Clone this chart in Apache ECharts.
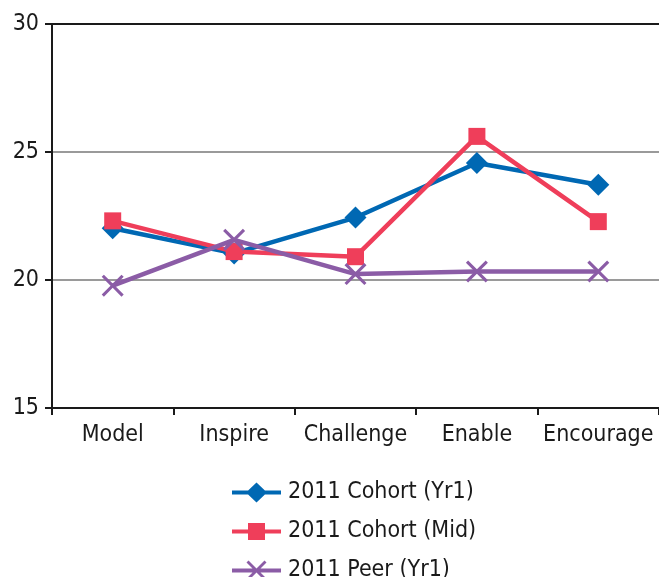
<!DOCTYPE html>
<html>
<head>
<meta charset="utf-8">
<script src="https://cdn.jsdelivr.net/npm/echarts@6/dist/echarts.min.js"></script>
<style>
  html, body { margin: 0; padding: 0; background: #fff; }
  #chart { width: 659px; height: 577px; }
</style>
</head>
<body>
<div id="chart"></div>
<script>
// Leadership practice scores by cohort
const categories = ['Model', 'Inspire', 'Challenge', 'Enable', 'Encourage'];
const cohortYr1 = [22.02, 21.04, 22.44, 24.57, 23.72];
const cohortMid = [22.31, 21.11, 20.91, 25.61, 22.28];
const peerYr1 = [19.78, 21.57, 20.23, 20.33, 20.33];
const seriesNames = ['2011 Cohort (Yr1)', '2011 Cohort (Mid)', '2011 Peer (Yr1)'];
const yTicks = { min: 15, max: 30, step: 5 };

const FONT = "'DejaVu Sans Condensed', 'Liberation Sans Narrow', 'DejaVu Sans', sans-serif";
const crossPath = 'path://M0,2 L2,0 L10,8 L18,0 L20,2 L12,10 L20,18 L18,20 L10,12 L2,20 L0,18 L8,10 Z';

// Legend keys: a line segment with the series marker in the middle (49 x 20 box).
// Two tiny corner specks pin the box so every key scales identically.
const keyFrame = 'M0,0 L0.01,0 L0.01,0.01 Z M49,20 L48.99,20 L48.99,19.99 Z ';
const keyLine = 'M0,8 L49,8 L49,12 L0,12 Z ';
const keyDiamond = 'path://' + keyFrame + keyLine + 'M24.5,0 L35,10 L24.5,20 L14,10 Z';
const keySquare = 'path://' + keyFrame + keyLine + 'M16,1.5 L33,1.5 L33,18.5 L16,18.5 Z';
const keyCross = 'path://' + keyFrame + keyLine +
  'M14.5,2 L16.5,0 L24.5,8 L32.5,0 L34.5,2 L26.5,10 L34.5,18 L32.5,20 L24.5,12 L16.5,20 L14.5,18 L22.5,10 Z';

const chart = echarts.init(document.getElementById('chart'), null, { renderer: 'canvas' });

chart.setOption({
  animation: false,
  backgroundColor: '#ffffff',
  textStyle: { fontFamily: FONT },
  grid: { left: 52, right: 0, top: 24, bottom: 169, containLabel: false },
  legend: {
    orient: 'vertical',
    left: 232,
    top: 481,
    height: 110,
    padding: 0,
    itemWidth: 49,
    itemHeight: 21,
    itemGap: 16,
    textStyle: {
      fontFamily: FONT, fontSize: 23, lineHeight: 21, color: '#1a1a1a', padding: [0, 0, 0, 2]
    },
    data: [
      { name: seriesNames[0], icon: keyDiamond },
      { name: seriesNames[1], icon: keySquare },
      { name: seriesNames[2], icon: keyCross }
    ]
  },
  xAxis: [
    {
      type: 'category',
      data: categories,
      boundaryGap: true,
      axisLine: { lineStyle: { color: '#1a1a1a', width: 2 } },
      axisTick: { show: true, length: 7, lineStyle: { color: '#1a1a1a', width: 2 } },
      axisLabel: { fontFamily: FONT, fontSize: 23, color: '#1a1a1a', margin: 16, interval: 0 },
      splitLine: { show: false }
    },
    {
      type: 'category',
      data: categories,
      position: 'top',
      axisLine: { show: true, lineStyle: { color: '#1a1a1a', width: 2 } },
      axisTick: { show: false },
      axisLabel: { show: false },
      splitLine: { show: false }
    }
  ],
  yAxis: {
    type: 'value',
    min: yTicks.min,
    max: yTicks.max,
    interval: yTicks.step,
    axisLine: { show: true, lineStyle: { color: '#1a1a1a', width: 2 } },
    axisTick: { show: true, length: 7, lineStyle: { color: '#1a1a1a', width: 2 } },
    axisLabel: { fontFamily: FONT, fontSize: 23, color: '#1a1a1a', margin: 13 },
    splitLine: { show: true, lineStyle: { color: '#9a9a9a', width: 2 } }
  },
  series: [
    {
      name: seriesNames[0],
      type: 'line',
      data: cohortYr1,
      symbol: 'diamond',
      symbolSize: 22,
      lineStyle: { color: '#0068b3', width: 4.5 },
      itemStyle: { color: '#0068b3' },
      z: 2
    },
    {
      name: seriesNames[1],
      type: 'line',
      data: cohortMid,
      symbol: 'rect',
      symbolSize: 17,
      lineStyle: { color: '#ef3e5a', width: 4.5 },
      itemStyle: { color: '#ef3e5a' },
      z: 3
    },
    {
      name: seriesNames[2],
      type: 'line',
      data: peerYr1,
      symbol: crossPath,
      symbolSize: 22,
      lineStyle: { color: '#8b5ca6', width: 4.5 },
      itemStyle: { color: '#8b5ca6' },
      z: 4
    }
  ]
});
</script>
</body>
</html>
